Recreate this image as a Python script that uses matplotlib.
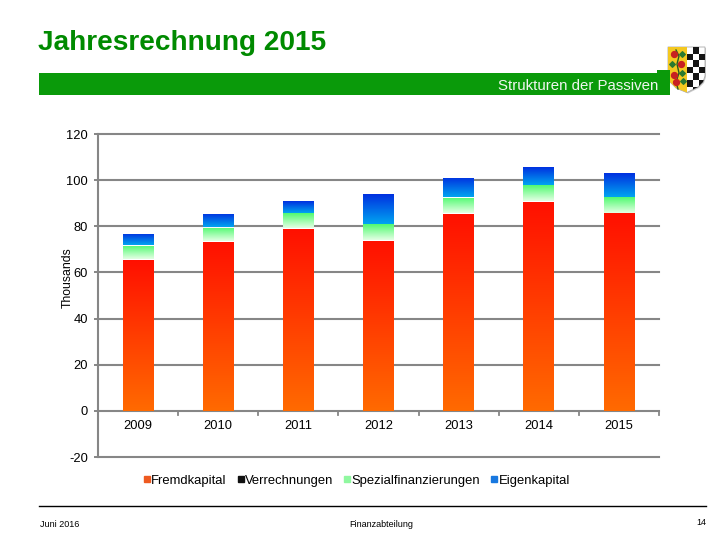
import numpy as np
import matplotlib
matplotlib.use('Agg')
import matplotlib.pyplot as plt
from matplotlib.colors import LinearSegmentedColormap
from matplotlib.patches import Polygon, Rectangle
from matplotlib.lines import Line2D

plt.rcParams['font.family'] = ['Liberation Sans', 'DejaVu Sans']
plt.rcParams['axes.unicode_minus'] = False

# Values (thousands)
years = ['2009', '2010', '2011', '2012', '2013', '2014', '2015']
fremdkapital = [65.4, 73.4, 78.9, 73.8, 85.4, 90.7, 85.6]
verrechnungen = [0, 0, 0, 0, 0, 0, 0]
spezial = [6.1, 6.0, 6.7, 7.1, 6.9, 7.1, 6.9]
eigenkapital = [5.2, 6.0, 5.4, 13.1, 8.7, 7.9, 10.5]
series_names = ['Fremdkapital', 'Verrechnungen', 'Spezialfinanzierungen', 'Eigenkapital']
yticks = [-20, 0, 20, 40, 60, 80, 100, 120]

GRAY = '#868686'
GREEN = '#0a9a0a'

# top colour, bottom colour of each bar gradient
red_grad = LinearSegmentedColormap.from_list('r', ['#ff1000', '#ff6a00'])
green_grad = LinearSegmentedColormap.from_list('g', ['#50fa70', '#e4ffe4'])
blue_grad = LinearSegmentedColormap.from_list('b', ['#0030e0', '#00a4f0'])

fig = plt.figure(figsize=(7.2, 5.4), dpi=100)
W, H = 720, 540


def px_axes(x0, y0, x1, y1):
    return fig.add_axes([x0 / W, 1 - y1 / H, (x1 - x0) / W, (y1 - y0) / H])


ax = px_axes(98, 134, 659, 457)
ax.set_xlim(-0.5, 6.5)
ax.set_ylim(-20, 120)
for s in ax.spines.values():
    s.set_visible(False)
ax.spines['left'].set_visible(True)
ax.spines['left'].set_color(GRAY)
ax.spines['left'].set_linewidth(1.5)

ax.set_yticks(yticks)
ax.tick_params(axis='y', length=3.2, color=GRAY, width=1.4, labelsize=9.3, pad=4)
ax.grid(axis='y', color=GRAY, linewidth=1.5)
for gl in ax.get_ygridlines():
    gl.set_clip_on(False)
ax.set_axisbelow(True)
ax.set_ylabel('Thousands', fontsize=8.8)
ax.yaxis.set_label_coords(-0.044, 0.556)

# x ticks between categories, labels just under the zero line
ax.set_xticks(np.arange(7))
ax.set_xticklabels([])
ax.tick_params(axis='x', length=0)
for i in range(1, 8):
    ax.plot([i - 0.5, i - 0.5], [0, -1.7], color=GRAY, lw=1.3, clip_on=False)
for i, y in enumerate(years):
    ax.annotate(y, (i, 0), xytext=(0, -6.3), textcoords='offset points',
                ha='center', va='top', fontsize=9.3)


def grad_bars(bottoms, heights, cmap):
    bars = ax.bar(range(7), heights, 0.385, bottom=bottoms, color='none', zorder=3)
    for b in bars:
        x, y, w, h = b.get_x(), b.get_y(), b.get_width(), b.get_height()
        im = ax.imshow(np.linspace(0, 1, 128).reshape(-1, 1), cmap=cmap, aspect='auto',
                       extent=(x, x + w, y, y + h), origin='upper', zorder=3,
                       interpolation='bilinear')
        im.set_clip_path(b)


f = np.array(fremdkapital)
sp = np.array(spezial)
e = np.array(eigenkapital)
grad_bars(0 * f, f, red_grad)
grad_bars(f + 0.3, sp - 0.3, green_grad)
grad_bars(f + sp + 0.3, e - 0.3, blue_grad)
ax.set_xlim(-0.5, 6.5)
ax.set_ylim(-20, 120)

# legend
swatches = ['#ee5a20', '#111111', '#90f8a0', '#1878e0']
handles = [Line2D([], [], ls='none', marker='s', ms=4.5, color=c) for c in swatches]
fig.legend(handles, series_names, loc='center', bbox_to_anchor=(357 / W, 1 - 480.5 / H),
           ncol=4, frameon=False, fontsize=9.4, handlelength=0.45, handletextpad=0.1,
           columnspacing=0.85, borderpad=0)

# slide decoration
fig.text(38 / W, 1 - 43 / H, 'Jahresrechnung 2015', color='#008a00', fontsize=20.2,
         fontweight='bold', va='center', ha='left')
fig.add_artist(Rectangle((39 / W, 1 - 94.5 / H), 631 / W, 21.5 / H, color=GREEN, lw=0,
                         transform=fig.transFigure))
fig.add_artist(Rectangle((657 / W, 1 - 75 / H), 13 / W, 5 / H, color=GREEN, lw=0,
                         transform=fig.transFigure))
fig.text(658 / W, 1 - 85.5 / H, 'Strukturen der Passiven', color='#f0f6f0', fontsize=10.8,
         va='center', ha='right')
fig.add_artist(Line2D([39 / W, 706 / W], [1 - 506 / H] * 2, color='black', lw=1,
                      transform=fig.transFigure))
fig.text(40 / W, 1 - 524.5 / H, 'Juni 2016', fontsize=6.5, va='center')
fig.text(381 / W, 1 - 524.5 / H, 'Finanzabteilung', fontsize=6.5, va='center', ha='center')
fig.text(706 / W, 1 - 522.5 / H, '14', fontsize=6.5, va='center', ha='right')

# coat of arms, drawn in its own small axes
logo = px_axes(667, 46, 706, 94)
logo.set_xlim(0, 39)
logo.set_ylim(48, 0)
logo.axis('off')
outline = [(1, 1), (38, 1), (38, 30), (36, 36), (31, 41), (20, 46.5), (9, 42), (3, 36), (1, 30)]
shadow = Polygon([(x + 1, y + 1) for x, y in outline], closed=True, fc='#cccccc', lw=0)
logo.add_patch(shadow)
shield = Polygon(outline, closed=True, fc='white', ec='#aaaaaa', lw=0.6)
logo.add_patch(shield)
left = Rectangle((1, 1), 19, 46, fc='#f4c820', lw=0)
logo.add_patch(left)
left.set_clip_path(shield)
for row in range(7):
    for col in range(3):
        if (row + col) % 2 == 1:
            sq = Rectangle((20 + col * 6.2, 1 + row * 6.6), 6.2, 6.6, fc='#151515', lw=0)
            logo.add_patch(sq)
            sq.set_clip_path(shield)
logo.plot([11, 9, 12, 10, 12, 9], [43, 36, 27, 18, 10, 4], color='#2a5a20', lw=1.0)
logo.scatter([6.5, 14, 7, 9], [8, 18, 29, 36], s=18, color='#c82020', zorder=3)
logo.scatter([15, 5, 15, 16], [8, 18, 27, 35], s=8, marker='D', color='#2a7a30', zorder=3)

fig.savefig('out.png', dpi=100)
